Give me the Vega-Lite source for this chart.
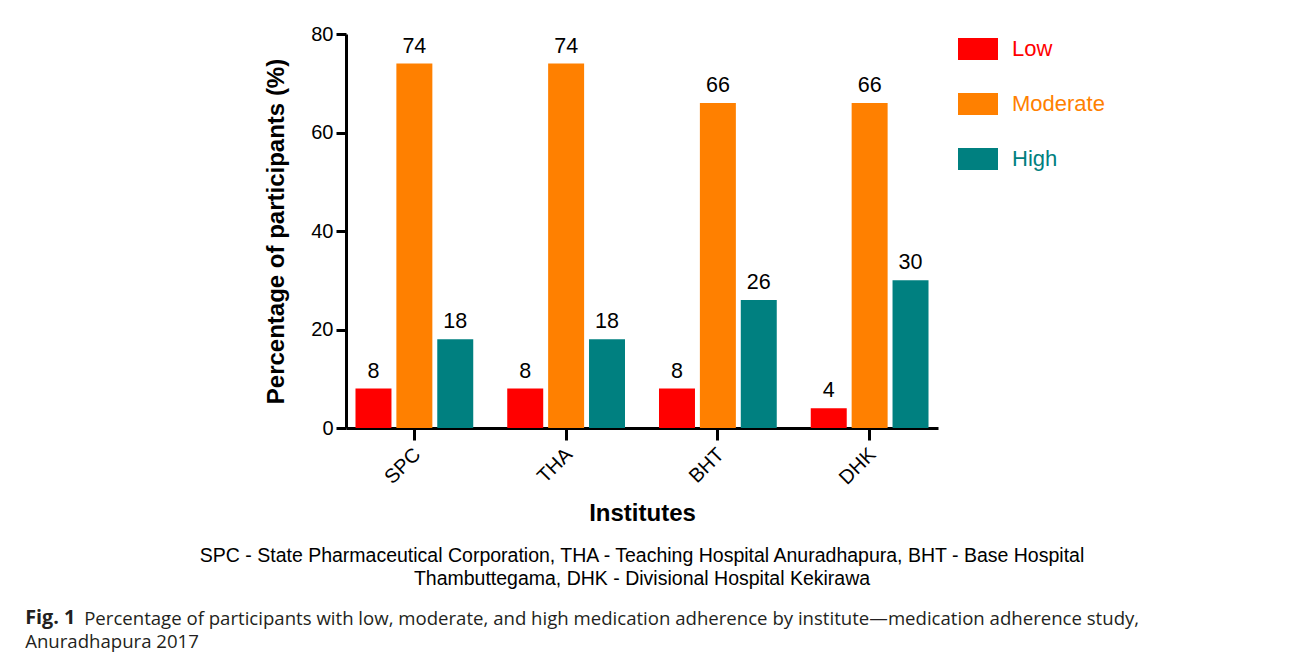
{
  "$schema": "https://vega.github.io/schema/vega-lite/v6.json",
  "background": "white",
  "padding": {"left": 25, "top": 24, "right": 0, "bottom": 0},
  "config": {"font": "Liberation Sans", "view": {"stroke": null}},
  "title": {"text": "Anuradhapura 2017", "orient": "bottom", "anchor": "start", "frame": "bounds", "font": "Open Sans", "fontWeight": "normal", "fontSize": 18.6, "color": "#231f20", "offset": 4.5, "dx": 0},
  "resolve": {"legend": {"color": "independent"}},
  "vconcat": [
    {
      "title": {"text": "Fig. 1", "orient": "bottom", "anchor": "start", "frame": "bounds", "font": "Open Sans", "fontWeight": "bold", "fontSize": 19.8, "color": "#231f20", "offset": 0, "dx": -59, "dy": -20},
      "resolve": {"legend": {"color": "independent"}},
      "vconcat": [
        {
          "title": {"text": "Percentage of participants with low, moderate, and high medication adherence by institute—medication adherence study,", "orient": "bottom", "anchor": "start", "frame": "bounds", "font": "Open Sans", "fontWeight": "normal", "fontSize": 18.6, "color": "#231f20", "offset": 21, "dx": -114},
          "resolve": {"legend": {"color": "independent"}},
          "vconcat": [
            {
              "title": {"text": ["SPC - State Pharmaceutical Corporation, THA - Teaching Hospital Anuradhapura, BHT - Base Hospital", "Thambuttegama, DHK - Divisional Hospital Kekirawa"], "orient": "bottom", "anchor": "middle", "frame": "group", "font": "Liberation Sans", "fontWeight": "normal", "fontSize": 19.5, "color": "black", "lineHeight": 23, "offset": 22},
              "width": 592,
              "height": 394,
              "data": {"values": [
                {"institute": "SPC", "level": "Low", "value": 8},
                {"institute": "SPC", "level": "Moderate", "value": 74},
                {"institute": "SPC", "level": "High", "value": 18},
                {"institute": "THA", "level": "Low", "value": 8},
                {"institute": "THA", "level": "Moderate", "value": 74},
                {"institute": "THA", "level": "High", "value": 18},
                {"institute": "BHT", "level": "Low", "value": 8},
                {"institute": "BHT", "level": "Moderate", "value": 66},
                {"institute": "BHT", "level": "High", "value": 26},
                {"institute": "DHK", "level": "Low", "value": 4},
                {"institute": "DHK", "level": "Moderate", "value": 66},
                {"institute": "DHK", "level": "High", "value": 30}
              ]},
              "encoding": {
                "x": {"field": "institute", "type": "nominal", "sort": ["SPC", "THA", "BHT", "DHK"],
                  "scale": {"paddingInner": 0.224, "paddingOuter": 0.0625},
                  "axis": {"title": "Institutes", "titleFontSize": 24, "titleFontWeight": "bold", "titleColor": "black", "titlePadding": 13,
                    "labelAngle": -45, "labelFontSize": 20, "labelColor": "black", "labelPadding": 4, "labelOffset": -4,
                    "domainWidth": 3, "domainColor": "black", "tickWidth": 3, "tickColor": "black", "tickSize": 12}},
                "xOffset": {"field": "level", "type": "nominal", "sort": ["Low", "Moderate", "High"], "scale": {"paddingInner": 0.12, "paddingOuter": 0}},
                "y": {"field": "value", "type": "quantitative", "scale": {"domain": [0, 80]},
                  "axis": {"title": "Percentage of participants (%)", "titleFontSize": 24, "titleFontWeight": "bold", "titleColor": "black", "titlePadding": 22,
                    "values": [0, 20, 40, 60, 80], "labelFontSize": 20, "labelColor": "black", "labelPadding": 3, "grid": false,
                    "domainWidth": 3, "domainColor": "black", "tickWidth": 3, "tickColor": "black", "tickSize": 10}},
                "color": {"field": "level", "type": "nominal", "sort": ["Low", "Moderate", "High"],
                  "scale": {"domain": ["Low", "Moderate", "High"], "range": ["#ff0000", "#ff8000", "#008080"]},
                  "legend": {"title": null, "orient": "right", "offset": 25, "padding": 4,
                    "symbolType": "M-1.818,-1H1.818V1H-1.818Z", "symbolSize": 484, "symbolStrokeWidth": 0, "symbolOpacity": 1,
                    "labelFontSize": 22, "labelOffset": 23, "rowPadding": 33,
                    "encode": {"labels": {"update": {"fill": {"scale": "color", "field": "value"}}}}}}
              },
              "layer": [
                {"mark": {"type": "bar"}},
                {"mark": {"type": "text", "fontSize": 21.5, "color": "black", "baseline": "alphabetic", "dy": -11},
                 "encoding": {"text": {"field": "value", "type": "quantitative"}, "color": {"value": "black"}}}
              ]
            }
          ]
        }
      ]
    }
  ]
}
